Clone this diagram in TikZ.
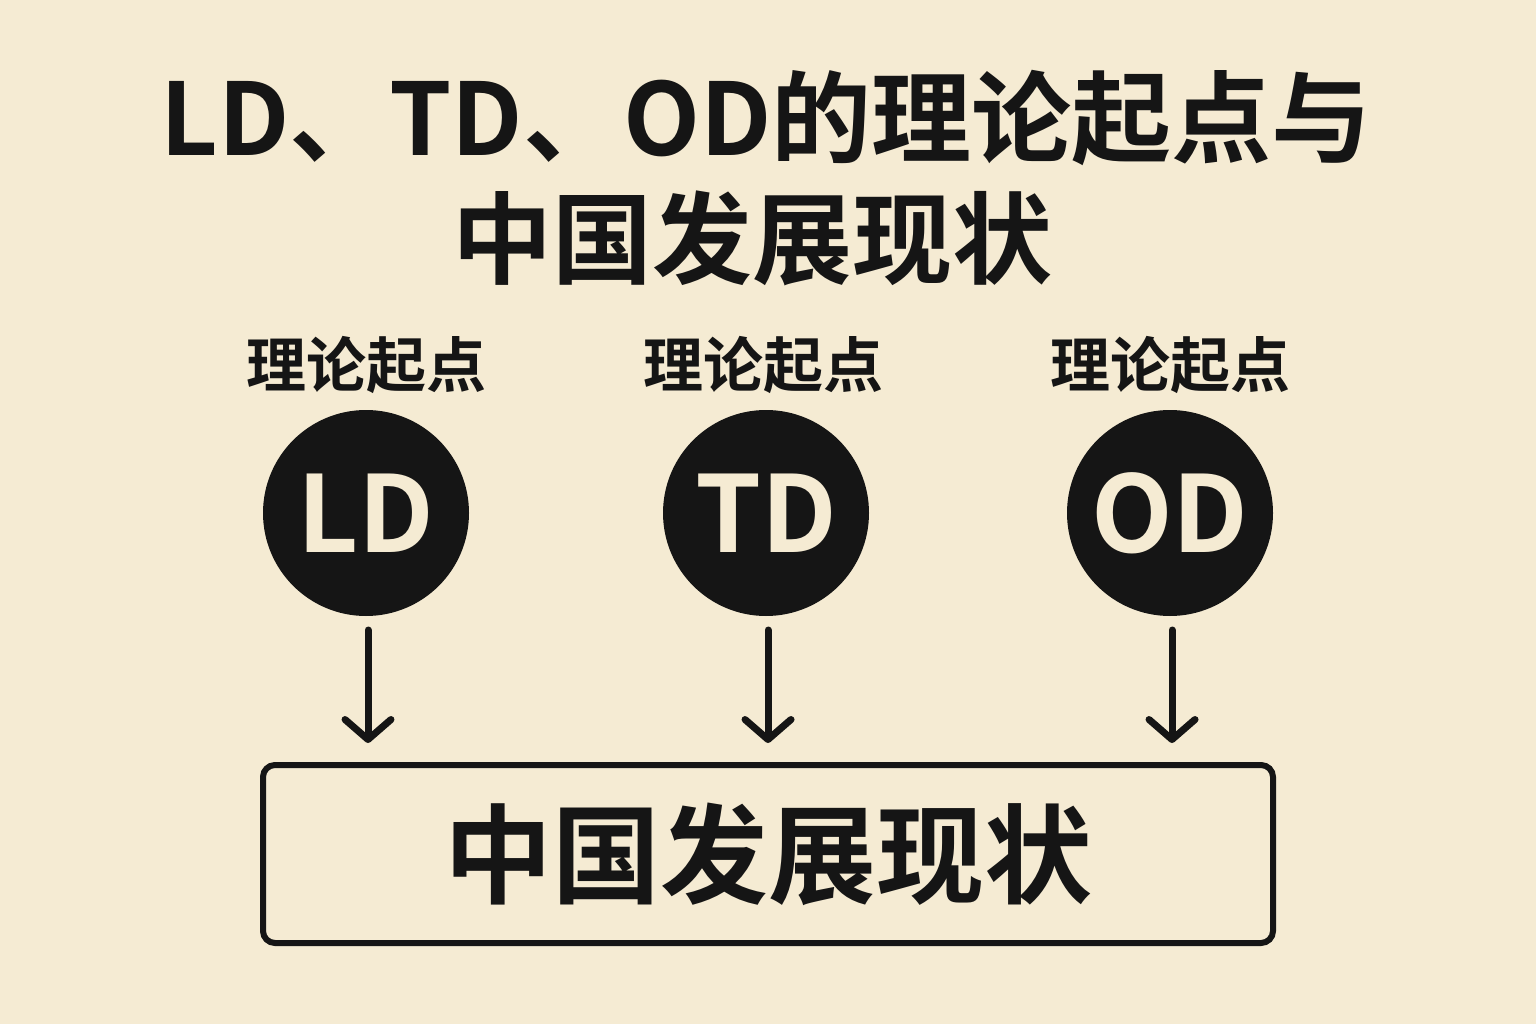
\documentclass[tikz,border=0pt]{standalone}
\usepackage{fontspec}
\usetikzlibrary{arrows.meta}
\setmainfont{Noto Sans CJK SC}[BoldFont={* Bold}]
\definecolor{bg}{HTML}{F5EBD3}
\definecolor{ink}{HTML}{151515}
\begin{document}
\begin{tikzpicture}[x=1pt,y=-1pt,
  title/.style={font=\bfseries\fontsize{100}{110}\selectfont,text=ink},
  lbl/.style={font=\bfseries\fontsize{60}{66}\selectfont,text=ink},
  circ/.style={circle,fill=ink,minimum size=206pt,inner sep=0pt,text=bg,font=\bfseries\fontsize{106}{110}\selectfont},
  arr/.style={draw=ink,line width=7pt,line cap=round,-{Straight Barb[length=20pt,width=46pt,line width=7pt,round]}},
  bx/.style={draw=ink,line width=6pt,rounded corners=12pt,minimum width=1010pt,minimum height=178pt,font=\bfseries\fontsize{108}{112}\selectfont,text=ink}]
\useasboundingbox[fill=bg] (0,0) rectangle (1536,1024);
\node[title] (t1) at (766,118) {LD、TD、OD的理论起点与};
\node[title] (t2) at (752,238) {中国发展现状};
\foreach \n/\x/\t in {a/366/LD,b/763/TD,c/1170/OD}{
  \node[lbl] (l\n) at (\x,365) {理论起点};
}
\foreach \n/\x/\t in {a/366/LD,b/766/TD,c/1170/OD}{
  \node[circ] (c\n) at (\x,513) {\t};
}
\node[bx] (box) at (768,854) {中国发展现状};
\foreach \n/\x in {a/368,b/768,c/1172}{
  \coordinate (s\n) at (\x,630);
  \coordinate (e\n) at (\x,743);
  \draw[arr] (s\n) -- (e\n);
}
\end{tikzpicture}
\end{document}
